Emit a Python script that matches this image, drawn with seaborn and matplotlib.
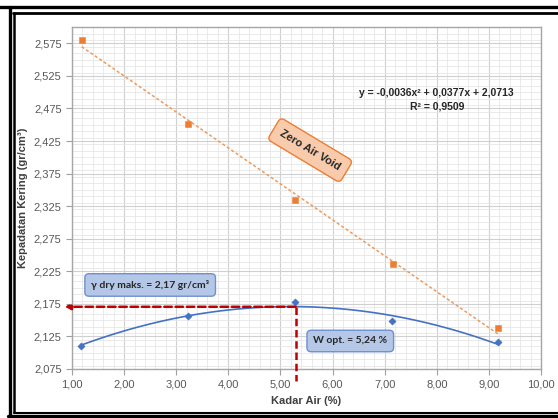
import numpy as np
import pandas as pd
import matplotlib
matplotlib.use("Agg")
import matplotlib.pyplot as plt
import seaborn as sns
from matplotlib.ticker import MultipleLocator, FuncFormatter
from matplotlib.lines import Line2D

# Data
kadar_air = [1.18, 3.23, 5.28, 7.15, 9.17]
kepadatan_kering = [2.111, 2.156, 2.178, 2.148, 2.116]
zav_kadar_air = [1.185, 3.23, 5.28, 7.16, 9.18]
zav_kepadatan = [2.580, 2.451, 2.334, 2.236, 2.138]
w_opt_line = 5.29
gamma_max_line = 2.1705

df = pd.DataFrame({"Kadar Air": kadar_air, "Kepadatan": kepadatan_kering})
df_zav = pd.DataFrame({"Kadar Air": zav_kadar_air, "Kepadatan": zav_kepadatan})

sns.set_theme(style="white")
plt.rcParams['font.family'] = ['Liberation Sans', 'DejaVu Sans']

BLUE = "#4472C4"
ORANGE = "#ED7D31"
RED = "#C00000"
GREY = "#595959"


def koma(v, pos, nd):
    return f"{v:.{nd}f}".replace(".", ",")


fig = plt.figure(figsize=(5.58, 4.18), dpi=100)
ax = fig.add_axes([72 / 558, 49 / 418, 469 / 558, 342 / 418])

# trend lines + points
sns.regplot(data=df_zav, x="Kadar Air", y="Kepadatan", order=1, ci=None, ax=ax,
            scatter=False, line_kws=dict(color="#EE9A5C", lw=1.1, ls=(0, (2, 1.5))))
sns.regplot(data=df, x="Kadar Air", y="Kepadatan", order=2, ci=None, ax=ax,
            scatter=False, line_kws=dict(color=BLUE, lw=1.2))
sns.scatterplot(data=df_zav, x="Kadar Air", y="Kepadatan", ax=ax, marker="s",
                s=22, color=ORANGE, edgecolor=ORANGE, zorder=5)
sns.scatterplot(data=df, x="Kadar Air", y="Kepadatan", ax=ax, marker="D",
                s=14, color=BLUE, edgecolor=BLUE, zorder=5)

ax.set_xlim(1, 10)
ax.set_ylim(2.075, 2.600)
ax.xaxis.set_major_locator(MultipleLocator(1))
ax.xaxis.set_minor_locator(MultipleLocator(0.2))
ax.yaxis.set_major_locator(MultipleLocator(0.05))
ax.yaxis.set_minor_locator(MultipleLocator(0.01))
ax.set_yticks(np.arange(2.075, 2.58, 0.05))
ax.xaxis.set_major_formatter(FuncFormatter(lambda v, p: koma(v, p, 2)))
ax.yaxis.set_major_formatter(FuncFormatter(lambda v, p: koma(v, p, 3)))
ax.grid(True, which="major", color="#d0d0d0", lw=0.8)
ax.grid(True, which="minor", color="#e6e6e6", lw=0.6)
ax.set_axisbelow(True)
ax.tick_params(axis="both", which="major", labelsize=8, labelcolor=GREY,
               color="#a0a0a0", length=4, width=0.8, direction="out",
               bottom=True, left=True)
ax.tick_params(axis="both", which="minor", length=0)
for s in ax.spines.values():
    s.set_color("#a6a6a6")
    s.set_linewidth(1.0)

ax.set_xlabel("Kadar Air (%)", fontsize=8, fontweight="bold", color="#404040", labelpad=5)
ax.set_ylabel("Kepadatan Kering (gr/cm³)", fontsize=8, fontweight="bold",
              color="#404040", labelpad=4)

# red dashed guides
ax.annotate("", xy=(0.86, gamma_max_line), xytext=(w_opt_line, gamma_max_line),
            arrowprops=dict(arrowstyle="-|>", color=RED, lw=1.8, ls=(0, (3, 1.5)),
                            mutation_scale=8, shrinkA=0, shrinkB=0),
            annotation_clip=False, zorder=6)
ax.plot([w_opt_line, w_opt_line], [gamma_max_line, 2.057], color=RED, lw=1.8,
        ls=(0, (3, 1.5)), clip_on=False, zorder=6)

# annotations
ax.text(8.0, 2.498, "y = -0,0036x² + 0,0377x + 2,0713", ha="center", va="center",
        fontsize=7.5, fontweight="bold", color="#262626")
ax.text(8.0, 2.478, "R² = 0,9509", ha="center", va="center",
        fontsize=7.5, fontweight="bold", color="#262626")
ax.text(5.57, 2.411, "Zero Air Void", ha="center", va="center", rotation=-31,
        fontsize=8, fontweight="bold", color="#262626",
        bbox=dict(boxstyle="round,pad=0.7,rounding_size=0.4", fc="#F8CBAD", ec=ORANGE, lw=1))
ax.text(2.50, 2.204, "γ dry maks. = 2,17 gr/cm³", ha="center", va="center",
        fontsize=7.5, fontweight="bold", color="#262626", family=["Lato", "DejaVu Sans"],
        bbox=dict(boxstyle="round,pad=0.6,rounding_size=0.4", fc="#B4C7E7", ec="#6F8FD0", lw=1))
ax.text(6.34, 2.118, "W opt. = 5,24 %", ha="center", va="center",
        fontsize=7.5, fontweight="bold", color="#262626", family=["Lato", "DejaVu Sans"],
        bbox=dict(boxstyle="round,pad=0.6,rounding_size=0.4", fc="#B4C7E7", ec="#6F8FD0", lw=1))

# screenshot frame (double black lines)
W, H = 558, 418
def fx(px):
    return px / W
def fy(py):
    return 1 - py / H
frame = [
    ([fx(0), fx(558)], [fy(7), fy(7)], 2.4),
    ([fx(13), fx(558)], [fy(13), fy(13)], 2.0),
    ([fx(9.5), fx(9.5)], [fy(7), fy(416)], 2.4),
    ([fx(14), fx(14)], [fy(13), fy(412)], 1.8),
    ([fx(14), fx(558)], [fy(412.5), fy(412.5)], 1.5),
    ([fx(8), fx(558)], [fy(416), fy(416)], 2.4),
]
for xs, ys, lw in frame:
    fig.add_artist(Line2D(xs, ys, color="black", lw=lw, transform=fig.transFigure))

fig.savefig("out.png", dpi=100)
